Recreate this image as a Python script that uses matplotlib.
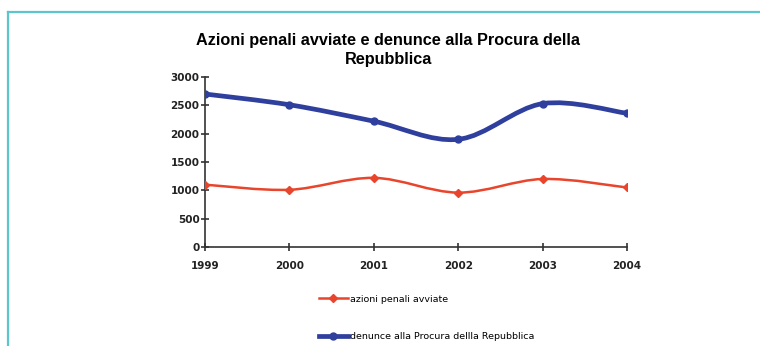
"""
Azioni penali avviate e denunce alla Procura della Repubblica, 1999-2004.
"""

import matplotlib
matplotlib.use("Agg")
import matplotlib.pyplot as plt
from matplotlib.path import Path
from matplotlib.patches import PathPatch
from matplotlib.lines import Line2D

anni = [1999, 2000, 2001, 2002, 2003, 2004]
azioni = [1100, 1010, 1220, 960, 1200, 1050]
denunce = [2700, 2510, 2220, 1900, 2530, 2360]

ROSSO = "#e8452c"
BLU = "#2f3f9e"
BORDO = "#5cc6cf"


def curva(xs, ys):
    # curva morbida (Catmull-Rom come Bezier cubiche) che passa per i punti
    verts = [(xs[0], ys[0])]
    codes = [Path.MOVETO]
    n = len(xs)
    for i in range(n - 1):
        x0, y0 = (xs[i - 1], ys[i - 1]) if i > 0 else (xs[i], ys[i])
        x1, y1 = xs[i], ys[i]
        x2, y2 = xs[i + 1], ys[i + 1]
        x3, y3 = (xs[i + 2], ys[i + 2]) if i + 2 < n else (x2, y2)
        c1 = (x1 + (x2 - x0) / 6, y1 + (y2 - y0) / 6)
        c2 = (x2 - (x3 - x1) / 6, y2 - (y3 - y1) / 6)
        verts += [c1, c2, (x2, y2)]
        codes += [Path.CURVE4] * 3
    return Path(verts, codes)


fig = plt.figure(figsize=(7.6, 3.46), dpi=100)
ax = fig.add_axes([205 / 760, 1 - 247 / 346, 422 / 760, 170 / 346])

for ys, col, lw, mk, ms in [(azioni, ROSSO, 1.8, "D", 4), (denunce, BLU, 3.4, "o", 5)]:
    ax.add_patch(PathPatch(curva(anni, ys), facecolor="none", edgecolor=col,
                           linewidth=lw, capstyle="round", zorder=3))
    ax.plot(anni, ys, linestyle="none", marker=mk, markersize=ms, color=col, zorder=4)

ax.set_xlim(1999, 2004)
ax.set_ylim(0, 3000)
ax.set_xticks(anni)
ax.set_yticks(range(0, 3001, 500))
for s in ["top", "right"]:
    ax.spines[s].set_visible(False)
for s in ["left", "bottom"]:
    ax.spines[s].set_linewidth(1.2)
    ax.spines[s].set_color("#333333")
ax.tick_params(direction="inout", length=6, width=1.2, color="#333333",
               labelsize=7.5, labelcolor="#222222")
ax.tick_params(axis="x", pad=7)
ax.tick_params(axis="y", pad=1)
for lab in ax.get_xticklabels() + ax.get_yticklabels():
    lab.set_fontweight("bold")
    lab.set_family("DejaVu Sans")

fig.text(0.511, 1 - 50 / 346, "Azioni penali avviate e denunce alla Procura della\nRepubblica",
         ha="center", va="center", fontsize=11.7, fontweight="bold",
         family="Liberation Sans", linespacing=1.3)

handles = [Line2D([], [], color=ROSSO, lw=1.8, marker="D", ms=4),
           Line2D([], [], color=BLU, lw=3.4, marker="o", ms=5)]
fig.legend(handles, ["azioni penali avviate", "denunce alla Procura dellla Repubblica"],
           loc="upper left", bbox_to_anchor=(310 / 760, 1 - 286 / 346), frameon=False,
           handlelength=3.1, handletextpad=0.2, labelspacing=3.0,
           prop={"family": "DejaVu Sans", "size": 6.8})

# cornice azzurra
fig.add_artist(Line2D([8 / 760, 8 / 760], [0, 1 - 12 / 346], color=BORDO, lw=1.6,
                      transform=fig.transFigure))
fig.add_artist(Line2D([8 / 760, 1], [1 - 12 / 346, 1 - 12 / 346], color=BORDO, lw=1.6,
                      transform=fig.transFigure))

fig.savefig("out.png", dpi=100)
